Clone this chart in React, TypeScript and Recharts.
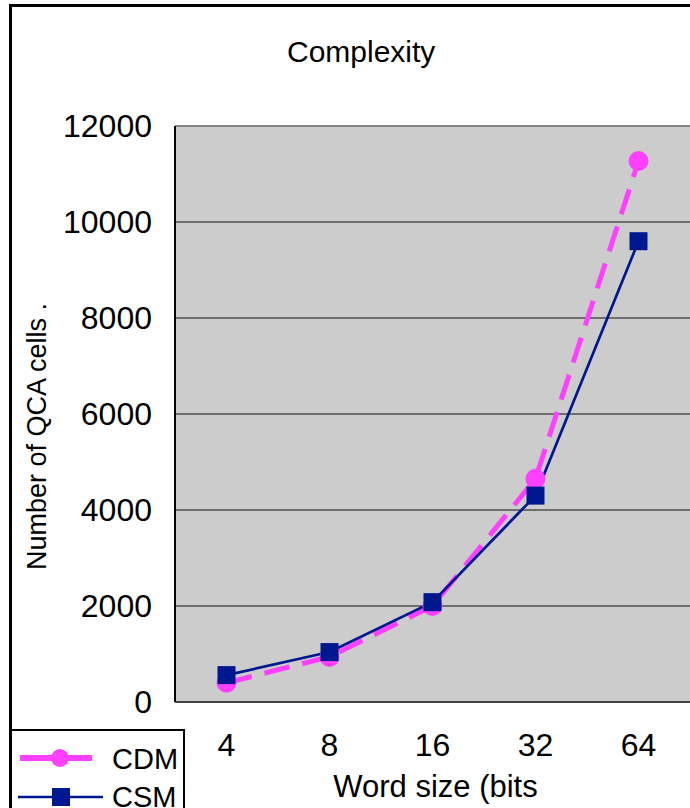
import React from 'react'
import {
  LineChart, Line, XAxis, YAxis, CartesianGrid, ReferenceLine, Label,
} from 'recharts'

const WORD_SIZES = ['4', '8', '16', '32', '64']
const CDM = [400, 940, 2000, 4650, 11270]
const CSM = [560, 1040, 2080, 4300, 9600]
const Y_TICKS = [0, 2000, 4000, 6000, 8000, 10000, 12000]
const CATEGORY_EDGES = [1, 2, 3, 4]

const PINK = '#ff40ff'
const NAVY = '#00188f'
const FONT = '"Liberation Sans", Arial, sans-serif'

const data = WORD_SIZES.map((w, i) => ({ word: w, CDM: CDM[i], CSM: CSM[i] }))

const SquareDot = (props: any) => {
  const { cx, cy, index } = props
  if (cx == null || cy == null) return null
  return <rect key={`sq-${index}`} x={cx - 9} y={cy - 9} width={18} height={18} fill={NAVY} />
}

const CircleDot = (props: any) => {
  const { cx, cy, index } = props
  if (cx == null || cy == null) return null
  return <circle key={`c-${index}`} cx={cx} cy={cy} r={10} fill={PINK} />
}

export default function App() {
  return (
    <div style={{ position: 'absolute', left: 0, top: 0, width: 690, height: 808, overflow: 'hidden', background: '#fff', fontFamily: FONT }}>
      {/* outer frame, cut off at right and bottom */}
      <div style={{ position: 'absolute', left: 9, top: 4, width: 800, height: 900, border: '3px solid #000' }} />

      <svg style={{ position: 'absolute', left: 287, top: 20 }} width={150} height={60}>
        <text x={0} y={42} fontSize={30} fontFamily={FONT} fill="#000">Complexity</text>
      </svg>

      <div style={{ position: 'absolute', left: 0, top: 0 }}>
        <LineChart width={690} height={808} data={data} margin={{ top: 126, right: 0, bottom: 0, left: 0 }}>
          <CartesianGrid vertical={false} fill="#cccccc" stroke="#111" fillOpacity={1} />
          <ReferenceLine y={12000} stroke="#888" strokeWidth={1.5} />
          <XAxis
            dataKey="word"
            height={106}
            interval={0}
            padding={{ left: 51.5, right: 51.5 }}
            tickLine={false}
            tickSize={0}
            tickMargin={31}
            axisLine={{ stroke: '#333', strokeWidth: 1.5 }}
            tick={{ fill: '#000', fontSize: 32, fontFamily: FONT }}
          >
            <Label
              content={({ viewBox }: any) => (
                <text
                  x={viewBox.x + viewBox.width / 2 + 3}
                  y={797}
                  textAnchor="middle"
                  fontSize={31}
                  fontFamily={FONT}
                  fill="#000"
                >
                  Word size (bits
                </text>
              )}
            />
          </XAxis>
          <XAxis
            xAxisId="edges"
            type="number"
            domain={[0, 5]}
            allowDataOverflow
            ticks={CATEGORY_EDGES}
            mirror
            tick={false}
            axisLine={false}
            tickSize={9}
            tickLine={{ stroke: '#333', strokeWidth: 1.5 }}
          />
          <YAxis
            width={175}
            domain={[0, 12000]}
            ticks={Y_TICKS}
            interval={0}
            tickLine={false}
            tickSize={0}
            tickMargin={23}
            axisLine={{ stroke: '#000', strokeWidth: 2 }}
            tick={{ fill: '#000', fontSize: 32, fontFamily: FONT }}
          >
            <Label
              content={() => (
                <text
                  x={46}
                  y={570}
                  transform="rotate(-90, 46, 570)"
                  textAnchor="start"
                  fontSize={27}
                  fontFamily={FONT}
                  fill="#000"
                >
                  Number of QCA cells .
                </text>
              )}
            />
          </YAxis>
          <Line
            dataKey="CDM"
            stroke={PINK}
            strokeWidth={5}
            strokeDasharray="26 13"
            dot={CircleDot}
            activeDot={false}
            isAnimationActive={false}
          />
          <Line
            dataKey="CSM"
            stroke={NAVY}
            strokeWidth={2.7}
            dot={SquareDot}
            activeDot={false}
            isAnimationActive={false}
          />
        </LineChart>
      </div>

      {/* legend box, cut off at the bottom */}
      <svg style={{ position: 'absolute', left: 10, top: 729 }} width={176} height={90}>
        <rect x={1} y={1} width={173} height={120} fill="#fff" stroke="#000" strokeWidth={2} />
        <line x1={10} y1={29} x2={82} y2={29} stroke={PINK} strokeWidth={6} />
        <circle cx={50} cy={29} r={9} fill={PINK} />
        <text x={102} y={40} fontSize={29} fontFamily={FONT} fill="#000">CDM</text>
        <line x1={8} y1={68} x2={93} y2={68} stroke={NAVY} strokeWidth={2.7} />
        <rect x={42} y={59} width={18} height={18} fill={NAVY} />
        <text x={102} y={78} fontSize={29} fontFamily={FONT} fill="#000">CSM</text>
      </svg>
    </div>
  )
}
